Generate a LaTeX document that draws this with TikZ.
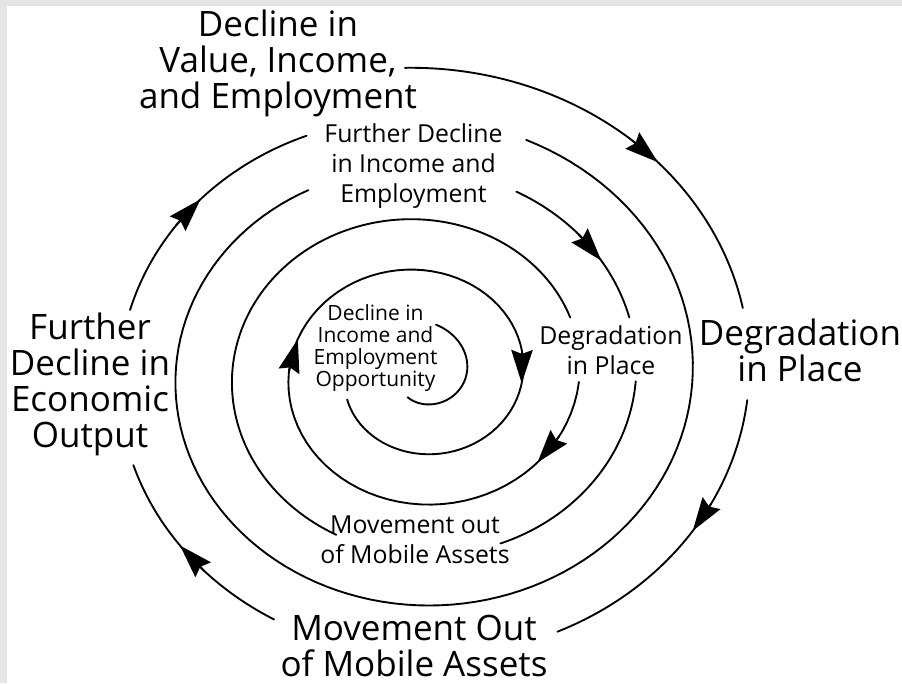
\documentclass[tikz,border=0pt]{standalone}
\usepackage{fontspec}
\setmainfont{Open Sans}
\usepackage{tikz}
\usetikzlibrary{arrows.meta}
\tikzset{
    spiral/.style={line width=1.4pt, line cap=round}, % 螺旋线的样式
    flowtip/.style={-{Stealth[length=25pt, width=16pt, inset=3pt]}}, % 螺旋上的箭头
    bigtxt/.style={align=center, inner sep=0pt, font=\fontsize{26.25pt}{27pt}\selectfont}, % 外圈标签
    midtxt/.style={align=center, inner sep=0pt, font=\fontsize{18.6pt}{22.5pt}\selectfont}, % 内圈标签
    smalltxt/.style={align=center, inner sep=0pt, font=\fontsize{15.75pt}{16.7pt}\selectfont} % 中心标签
}

\begin{document}
\begin{tikzpicture}[x=0.75pt, y=-0.75pt]
    \def\cx{420} \def\cy{374.5} \def\rr{294} \def\dd{50.5} \def\sx{1.12}
    \def\sr#1{(\rr-\dd*((#1)/360))}
    \useasboundingbox (0,0) rectangle (902,683);
    \fill[black!10] (0,0) rectangle (902,683);
    \fill[white] (7,6) rectangle (902,683);

    % spiral pieces between the labels
    \foreach \a/\b in {-92.5/-13, 5/64.5, 118/160.5, 194/247, 292/601.6, 655.2/703, 722/787, 835/1057, 1083/1599, 1726/1916}
        \draw[spiral] plot[domain=\a:\b, samples=120] ({\cx+\sx*\sr{\x}*cos(\x)}, {\cy+\sr{\x}*sin(\x)});

    \foreach \t/\s in {-45/6, 32.7/6.3, 141.4/7, 221.8/7.3, 684.9/9.5, 1120/13.5, 1278/16.5, 1445.5/20}
        \draw[spiral, flowtip] ({\cx+\sx*\sr{\t-\s}*cos(\t-\s)}, {\cy+\sr{\t-\s}*sin(\t-\s)}) -- ({\cx+\sx*\sr{\t}*cos(\t)}, {\cy+\sr{\t}*sin(\t)});

    \node[bigtxt] (topout) at (278,63) {Decline in\\Value, Income,\\and Employment};
    \node[bigtxt] (rightout) at (800,350) {Degradation\\in Place};
    \node[bigtxt] (bottomout) at (414,646) {Movement Out\\of Mobile Assets};
    \node[bigtxt] (leftout) at (90,384) {Further\\Decline in\\Economic\\Output};
    \node[midtxt] (topin) at (413.5,166) {Further Decline\\in Income and\\Employment};
    \node[midtxt] (rightin) at (611,350) {Degradation\\in Place};
    \node[midtxt] (bottomin) at (415,540) {Movement out\\of Mobile Assets};
    \node[smalltxt] (centre) at (375.5,348) {Decline in\\Income and\\Employment\\Opportunity};
\end{tikzpicture}
\end{document}
